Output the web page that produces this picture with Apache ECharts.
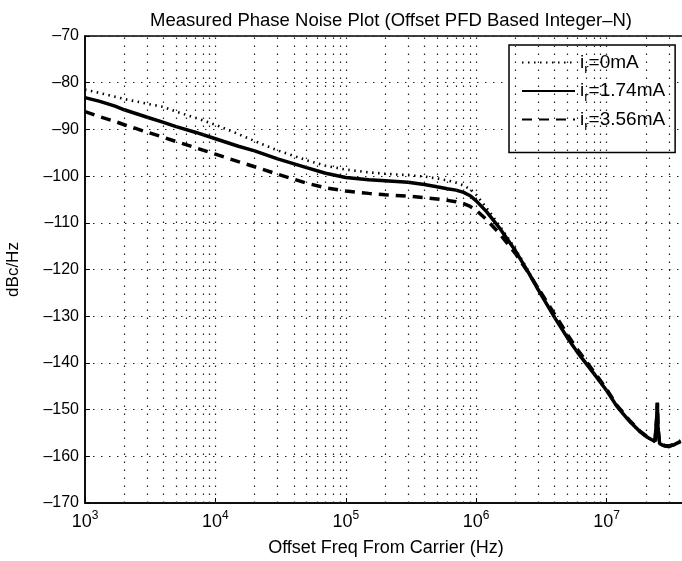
<!DOCTYPE html>
<html>
<head>
<meta charset="utf-8">
<script src="https://cdn.jsdelivr.net/npm/echarts@6/dist/echarts.min.js"></script>
<style>html,body{margin:0;padding:0;background:#fff}#c{width:682px;height:561px}</style>
</head>
<body>
<div id="c"></div>
<script>
var freqs = [1000,1300,1700,2000,3000,4000,5000,7000,1e4,1.5e4,2e4,3e4,5e4,7e4,1e5,1.5e5,2e5,3e5,4e5,5e5,6e5,7e5,8e5,9e5,1e6,1.2e6,1.5e6,2e6,2.5e6,3e6,4e6,5e6,6e6,7e6,8e6,1e7,1.2e7,1.5e7,1.8e7,2e7,2.2e7,2.35e7,2.42e7,2.45e7,2.48e7,2.55e7,2.8e7,3e7,3.3e7,3.7e7];
var ir0 = [-81.5,-82.2,-83.0,-83.5,-84.5,-85.2,-86.2,-87.5,-89.0,-91.0,-92.5,-94.5,-96.6,-97.8,-98.6,-99.2,-99.5,-99.8,-100.1,-100.5,-100.9,-101.4,-102.0,-102.8,-104.0,-106.8,-110.5,-115.6,-120.2,-124.2,-130.2,-134.6,-137.8,-140.2,-142.4,-146.0,-149.4,-152.6,-154.8,-155.8,-156.5,-156.9,-152.2,-148.6,-154.1,-157.4,-157.9,-158.0,-157.6,-156.9];
var ir174 = [-83.2,-84.0,-85.0,-85.8,-87.4,-88.5,-89.4,-90.6,-92.0,-93.6,-94.6,-96.3,-98.2,-99.4,-100.3,-100.8,-101.0,-101.3,-101.8,-102.3,-102.7,-103.0,-103.5,-104.2,-105.3,-107.6,-111.0,-116.0,-120.5,-124.4,-130.3,-134.6,-137.8,-140.2,-142.3,-145.9,-149.3,-152.5,-154.7,-155.7,-156.4,-156.8,-152.0,-148.5,-154.0,-157.3,-157.8,-157.9,-157.5,-156.8];
var ir356 = [-86.2,-87.3,-88.3,-89.0,-90.6,-91.7,-92.6,-93.9,-95.3,-96.9,-98.0,-99.6,-101.5,-102.5,-103.2,-103.7,-104.0,-104.3,-104.6,-104.9,-105.2,-105.5,-105.9,-106.5,-107.3,-109.3,-112.2,-116.6,-120.6,-124.1,-129.6,-133.9,-137.2,-139.7,-141.9,-145.6,-149.1,-152.3,-154.6,-155.6,-156.3,-156.7,-152.0,-148.6,-154.0,-157.2,-157.7,-157.8,-157.4,-156.7];
var seriesNames = ['i_r=0mA','i_r=1.74mA','i_r=3.56mA'];
var gridFreqs = [];
[1e3,1e4,1e5,1e6,1e7].forEach(function(d){ for (var k=1;k<=9;k++){ var f=k*d; if (f>1e3 && f<1e8) gridFreqs.push(f);} });

function pairs(v){ return freqs.map(function(f,i){ return [f, v[i]]; }); }

var FONT = "'Liberation Sans', Arial, sans-serif";
var chart = echarts.init(document.getElementById('c'), null, {renderer:'canvas'});
var dotted = {color:'#222', width:1.2, type:[1.5,6.5]};
chart.setOption({
  animation:false,
  backgroundColor:'#fff',
  title:{text:'Measured Phase Noise Plot (Offset PFD Based Integer\u2013N)', left:386, textAlign:'center', top:6,
    textStyle:{fontFamily:FONT, fontSize:18.5, fontWeight:'normal', color:'#000'}},
  grid:{left:85, top:36, right:-55, bottom:58, containLabel:false, outerBoundsMode:'none', show:true, borderColor:'#000', borderWidth:1.5, backgroundColor:'transparent'},
  legend:{orient:'vertical', left:509, top:45, width:162, padding:[8,10,20,12], itemGap:6,
    backgroundColor:'#fff', borderColor:'#000', borderWidth:1.5, itemWidth:53, itemHeight:14,
    itemStyle:{opacity:0},
    data:seriesNames,
    formatter:function(n){ var rest=n.split('=')[1]; return '{i|i}{s|r}{t|='+rest+'}'; },
    textStyle:{fontFamily:FONT, color:'#000', rich:{
      i:{fontFamily:FONT, fontSize:19, color:'#000', lineHeight:26},
      s:{fontFamily:FONT, fontSize:13, color:'#000', verticalAlign:'bottom', lineHeight:13},
      t:{fontFamily:FONT, fontSize:19, color:'#000', lineHeight:26}
    }}},
  xAxis:{type:'log', logBase:10, min:1e3, max:1e8,
    name:'Offset Freq From Carrier (Hz)', nameLocation:'middle', nameGap:36,
    nameTextStyle:{fontFamily:FONT, fontSize:18, color:'#000', padding:[0,50,0,0]},
    axisLine:{lineStyle:{color:'#000', width:1.5}},
    axisTick:{inside:true, length:5, lineStyle:{color:'#000'}},
    splitLine:{show:false},
    axisLabel:{margin:7, formatter:function(v){ var e=Math.round(Math.log10(v)); return '{b|10}{p|'+e+'}'; },
      rich:{b:{fontFamily:FONT, fontSize:18, color:'#000', lineHeight:24}, p:{fontFamily:FONT, fontSize:12, color:'#000', verticalAlign:'top', lineHeight:12}}}},
  yAxis:{type:'value', min:-170, max:-70, interval:10,
    name:'dBc/Hz', nameLocation:'middle', nameGap:63, nameRotate:90,
    nameTextStyle:{fontFamily:FONT, fontSize:17, color:'#000'},
    axisLine:{lineStyle:{color:'#000', width:1.5}},
    axisTick:{inside:true, length:5, lineStyle:{color:'#000'}},
    axisLabel:{fontFamily:FONT, fontSize:16, color:'#000', margin:6, formatter:function(v){ return String(v).replace('-', '\u2013'); }},
    splitLine:{show:true, lineStyle:dotted}},
  series:[
    {name:'grid', type:'line', data:[], silent:true, markLine:{silent:true, symbol:'none', label:{show:false}, lineStyle:dotted, animation:false,
      data:gridFreqs.map(function(f){ return {xAxis:f}; })}},
    {name:seriesNames[0], type:'line', symbol:'none', data:pairs(ir0), lineStyle:{color:'#000', width:2.6, type:[1.5,4.5]}, itemStyle:{color:'#000'}},
    {name:seriesNames[1], type:'line', symbol:'none', data:pairs(ir174), lineStyle:{color:'#000', width:3.5}, itemStyle:{color:'#000'}},
    {name:seriesNames[2], type:'line', symbol:'none', data:pairs(ir356), lineStyle:{color:'#000', width:3.5, type:[10,7]}, itemStyle:{color:'#000'}}
  ]
});
</script>
</body>
</html>
